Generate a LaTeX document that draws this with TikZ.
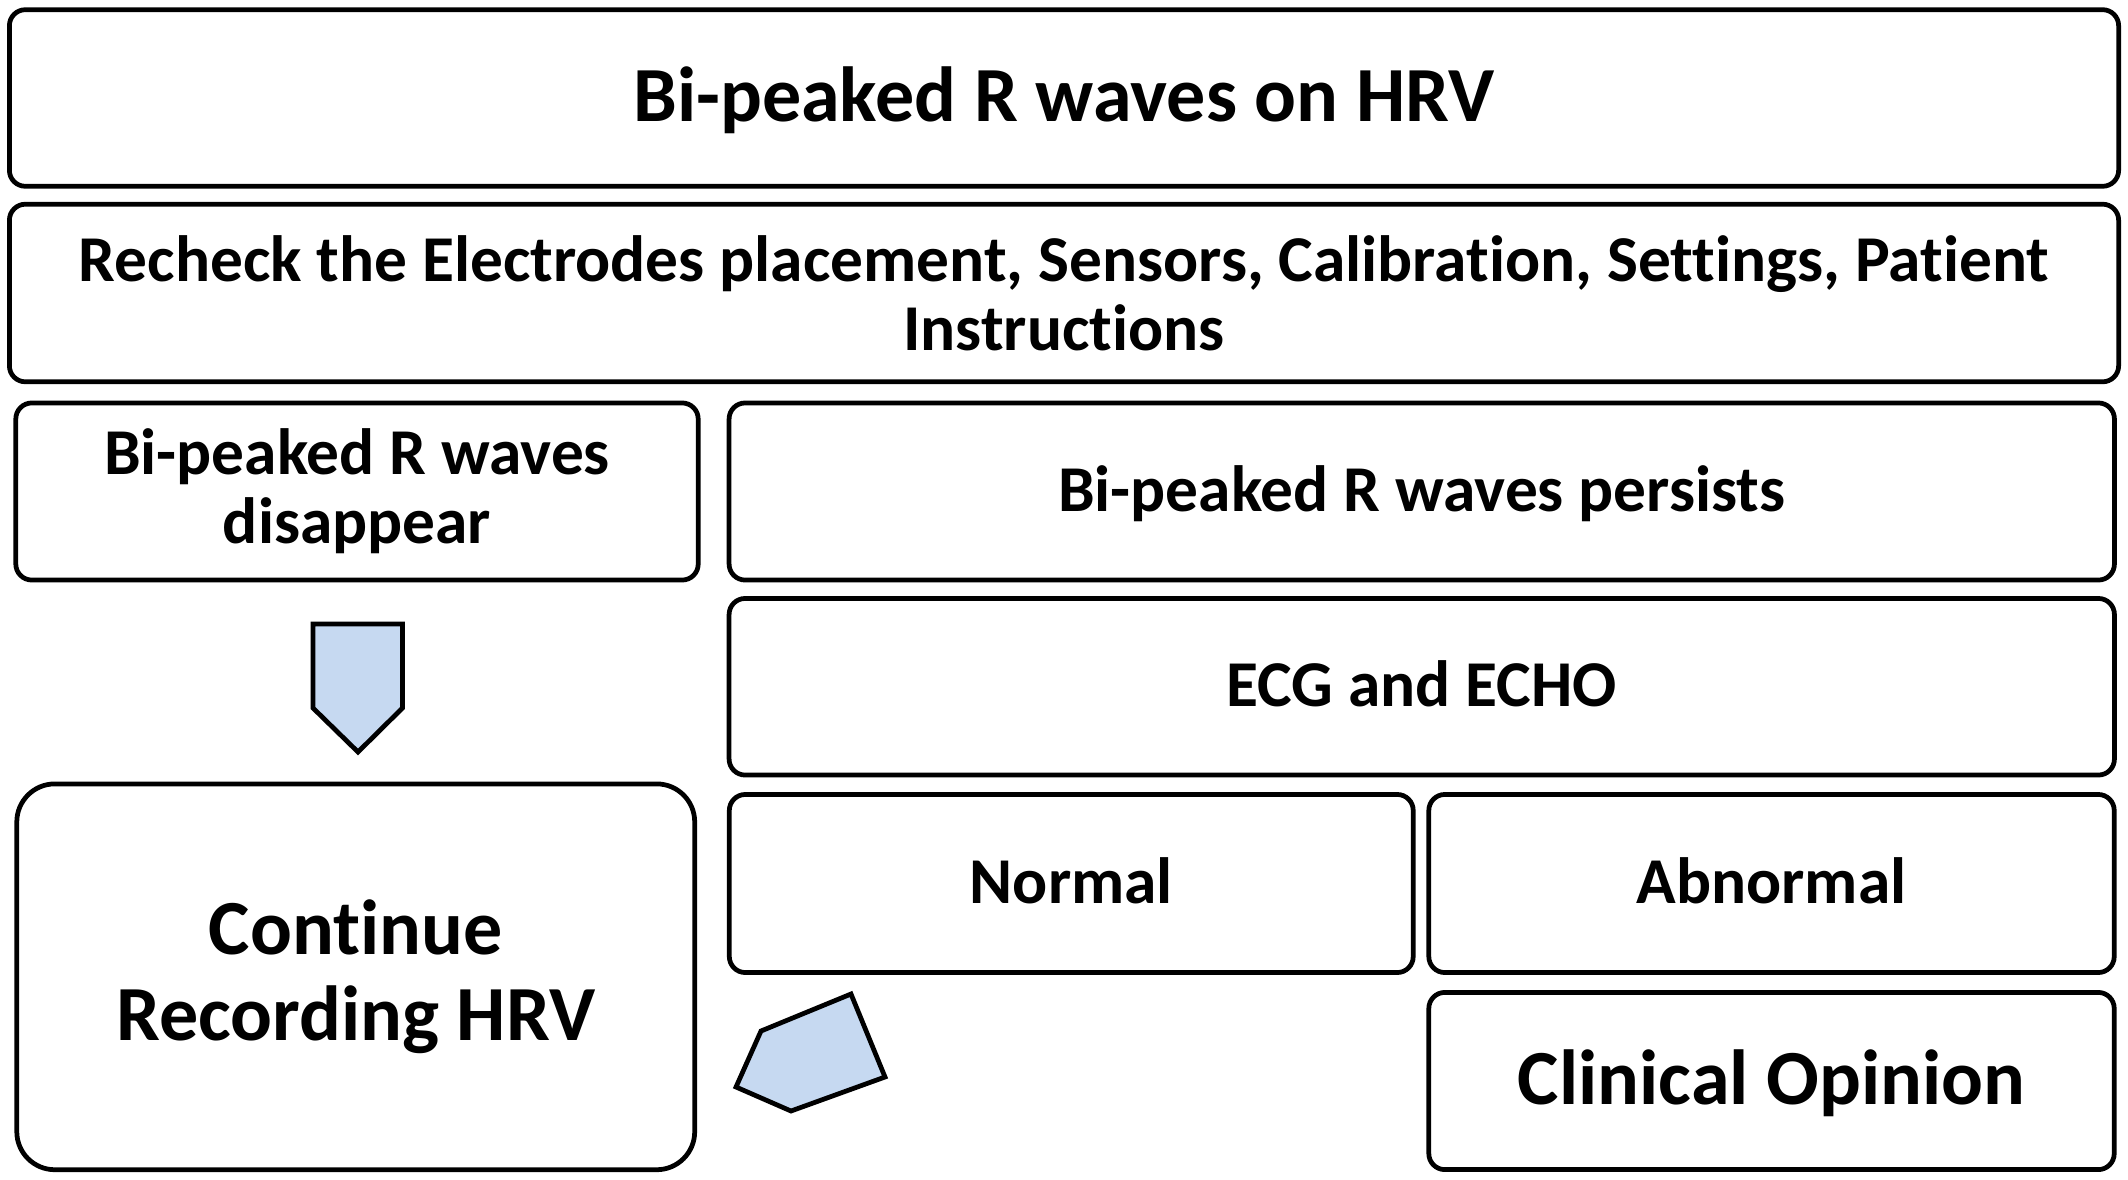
\documentclass[tikz,border=0pt]{standalone}
\usepackage{fontspec}
\setmainfont{Carlito}[Ligatures=NoCommon]
\definecolor{LightBlue}{RGB}{198,217,241}

\begin{document}
\begin{tikzpicture}[x=0.01cm,y=-0.01cm,line width=1.35pt,
  box/.style={draw,rounded corners=0.16cm,inner sep=0pt,align=center,
    font=\bfseries\fontsize{18.6}{19.6}\selectfont},
  bigbox/.style={box,font=\bfseries\fontsize{22.2}{24.5}\selectfont},
  single/.style={text height=14pt,text depth=2.8pt},
  bigsingle/.style={text height=16.7pt,text depth=3.3pt}]
\useasboundingbox (0,0) rectangle (2128,1179);

\node[bigbox,bigsingle,minimum width=21.08cm,minimum height=1.765cm] (hrv) at (1064,98) {Bi-peaked R waves on HRV};
\node[box,minimum width=21.08cm,minimum height=1.775cm] (recheck) at (1064,293) {Recheck the Electrodes placement, Sensors, Calibration, Settings, Patient\\Instructions};

\node[box,minimum width=6.82cm,minimum height=1.77cm] (gone) at (357,491.5) {Bi-peaked R waves\\disappear};
\node[box,single,minimum width=13.845cm,minimum height=1.77cm] (persist) at (1421.75,491.5) {Bi-peaked R waves persists};
\node[box,single,minimum width=13.845cm,minimum height=1.765cm] (ecg) at (1421.75,686.75) {ECG and ECHO};

\node[bigbox,rounded corners=0.38cm,minimum width=6.775cm,minimum height=3.856cm] (cont) at (355.75,976.8) {Continue\\Recording HRV};

\node[box,single,minimum width=6.835cm,minimum height=1.78cm] (normal) at (1071.25,883.5) {Normal};
\node[box,single,minimum width=6.85cm,minimum height=1.78cm] (abnormal) at (1771.5,883.5) {Abnormal};
\node[bigbox,bigsingle,minimum width=6.85cm,minimum height=1.771cm] (opinion) at (1771.5,1081) {Clinical Opinion};

\draw[fill=LightBlue] (313,624) -- (402.5,624) -- (402.5,708) -- (358,752) -- (313,708) -- cycle;
\draw[fill=LightBlue] (851,994) -- (885,1077) -- (791,1111) -- (736,1087) -- (761,1031) -- cycle;
\end{tikzpicture}
\end{document}
